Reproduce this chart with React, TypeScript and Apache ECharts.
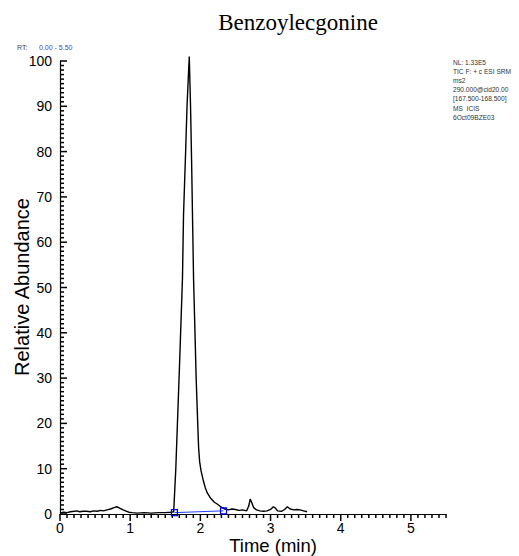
import React, { useEffect, useRef } from "react";
import * as echarts from "echarts";

const timeMin = [
  0, 0.05, 0.1, 0.15, 0.2, 0.24, 0.28, 0.33, 0.38, 0.43, 0.48, 0.53, 0.58, 0.62, 0.67, 0.72, 0.77, 0.81, 0.85,
  0.9, 0.95, 0.98, 1.03, 1.1, 1.2, 1.3, 1.4, 1.5, 1.58, 1.62, 1.65, 1.7, 1.745, 1.76, 1.79, 1.81, 1.83, 1.842,
  1.85, 1.86, 1.875, 1.89, 1.903, 1.92, 1.94, 1.96, 1.975, 1.99, 2.01, 2.04, 2.07, 2.1, 2.15, 2.2, 2.24, 2.3,
  2.35, 2.4, 2.45, 2.5, 2.55, 2.6, 2.66, 2.69, 2.71, 2.73, 2.76, 2.8, 2.85, 2.9, 2.95, 3.0, 3.04, 3.07, 3.1,
  3.16, 3.2, 3.24, 3.28, 3.33, 3.38, 3.42, 3.47, 3.52,
];
const relAbundance = [
  0.2, 0.4, 0.3, 0.5, 0.6, 0.7, 0.5, 0.6, 0.6, 0.5, 0.7, 0.6, 0.8, 0.7, 0.9, 1.1, 1.4, 1.6, 1.3,
  0.9, 0.6, 0.4, 0.3, 0.2, 0.3, 0.2, 0.3, 0.3, 0.4, 0.5, 10, 31.5, 52, 66, 80, 90, 97, 101,
  96, 90, 78, 64, 52, 42, 30, 21, 14.6, 11.5, 9.5, 7.5, 5.8, 4.6, 3.4, 2.6, 2.2, 1.5,
  1.1, 0.9, 1.1, 1.0, 0.8, 0.9, 0.7, 1.8, 3.3, 2.6, 1.4, 0.9, 0.7, 0.6, 0.7, 1.0, 1.6, 1.3, 0.7,
  0.6, 1.0, 1.6, 1.1, 0.9, 1.0, 0.9, 0.7, 0.5,
];
const baselineTime = [1.63, 2.33];
const baselineValue = [0.3, 0.7];

const titleText = "Benzoylecgonine";
const rtLabel = "RT:";
const rtRange = "0.00 - 5.50";
const infoLines = [
  "NL: 1.33E5",
  "TIC F: + c ESI SRM",
  "ms2",
  "290.000@cid20.00",
  "[167.500-168.500]",
  "MS  ICIS",
  "6Oct09BZE03",
];
const xName = "Time (min)";
const yName = "Relative Abundance";

const X_MIN = 0;
const X_MAX = 5.5;
const Y_MIN = 0;
const Y_MAX = 100;

const SANS = "Liberation Sans, Arial, sans-serif";

export default function App() {
  const ref = useRef<HTMLDivElement>(null);
  useEffect(() => {
    if (!ref.current) return;
    const chart = echarts.init(ref.current, null, { renderer: "svg" });
    const lineData = timeMin.map((t, i) => [t, relAbundance[i]]);
    const baseData = baselineTime.map((t, i) => [t, baselineValue[i]]);
    const infoGraphics = infoLines.map((s, i) => ({
      type: "text",
      left: 453,
      top: 59 + i * 9.1,
      style: { text: s, fill: "#333", font: `6.6px ${SANS}` },
    }));

    // tick marks placed through the axes' own coordinate mapping
    const renderTicks = (params: any, api: any) => {
      const children: any[] = [];
      const st = { stroke: "#000", lineWidth: 1.5 };
      for (let k = 0; k <= Math.round((X_MAX - X_MIN) * 10); k++) {
        const p = api.coord([X_MIN + k / 10, Y_MIN]);
        const len = k % 10 === 0 ? 7 : 4;
        children.push({ type: "line", shape: { x1: p[0], y1: p[1], x2: p[0], y2: p[1] + len }, style: st });
      }
      for (let k = 0; k <= Y_MAX - Y_MIN; k++) {
        const p = api.coord([X_MIN, Y_MIN + k]);
        const len = k % 10 === 0 ? 7 : 4;
        children.push({ type: "line", shape: { x1: p[0], y1: p[1], x2: p[0] + len, y2: p[1] }, style: st });
      }
      return { type: "group", children };
    };

    chart.setOption({
      animation: false,
      backgroundColor: "#fff",
      grid: { left: 60, right: 73, top: 61, bottom: 42, containLabel: false },
      xAxis: {
        type: "value",
        min: X_MIN,
        max: X_MAX,
        interval: 0.5,
        axisLine: { show: true, onZero: false, lineStyle: { color: "#000", width: 1.2 } },
        axisTick: { show: false },
        splitLine: { show: false },
        axisLabel: {
          show: true,
          color: "#000",
          fontFamily: SANS,
          fontSize: 14,
          margin: 7,
          formatter: (v: number) => (Math.abs(v - Math.round(v)) < 1e-6 ? String(Math.round(v)) : ""),
        },
      },
      yAxis: {
        type: "value",
        min: Y_MIN,
        max: Y_MAX,
        interval: 10,
        axisLine: { show: true, onZero: false, lineStyle: { color: "#000", width: 1.2 } },
        axisTick: { show: false },
        splitLine: { show: false },
        axisLabel: { show: true, color: "#000", fontFamily: SANS, fontSize: 14, margin: 8 },
      },
      graphic: [
        {
          type: "text",
          x: 298,
          y: 22,
          style: {
            text: titleText,
            fill: "#000",
            font: "23px Liberation Serif, DejaVu Serif, serif",
            textAlign: "center",
            textVerticalAlign: "middle",
          },
        },
        {
          type: "text",
          x: 17,
          y: 47,
          style: { text: rtLabel, fill: "#444", font: `7px ${SANS}`, textVerticalAlign: "middle" },
        },
        {
          type: "text",
          x: 39,
          y: 47,
          style: { text: rtRange, fill: "#4444cc", font: `7px ${SANS}`, textVerticalAlign: "middle" },
        },
        ...infoGraphics,
        {
          type: "text",
          x: 273,
          y: 545.5,
          style: {
            text: xName,
            fill: "#000",
            font: `18.5px ${SANS}`,
            textAlign: "center",
            textVerticalAlign: "middle",
          },
        },
        {
          type: "text",
          x: 22,
          y: 287,
          rotation: Math.PI / 2,
          style: {
            text: yName,
            fill: "#000",
            font: `20px ${SANS}`,
            textAlign: "center",
            textVerticalAlign: "middle",
          },
        },
      ],
      series: [
        {
          type: "custom",
          data: [[X_MIN, Y_MIN]],
          renderItem: renderTicks,
          clip: false,
          silent: true,
          z: 2,
        },
        {
          type: "line",
          data: lineData,
          showSymbol: false,
          symbol: "none",
          clip: false,
          lineStyle: { color: "#000", width: 1.4 },
          z: 3,
        },
        {
          type: "line",
          data: baseData,
          symbol: "rect",
          symbolSize: 6,
          showSymbol: true,
          lineStyle: { color: "#2040ff", width: 1 },
          itemStyle: { color: "rgba(255,255,255,0)", borderColor: "#0000ee", borderWidth: 1.2 },
          z: 4,
        },
      ],
    });
    return () => chart.dispose();
  }, []);
  return <div ref={ref} style={{ width: 519, height: 556, position: "absolute", left: 0, top: 0 }} />;
}
